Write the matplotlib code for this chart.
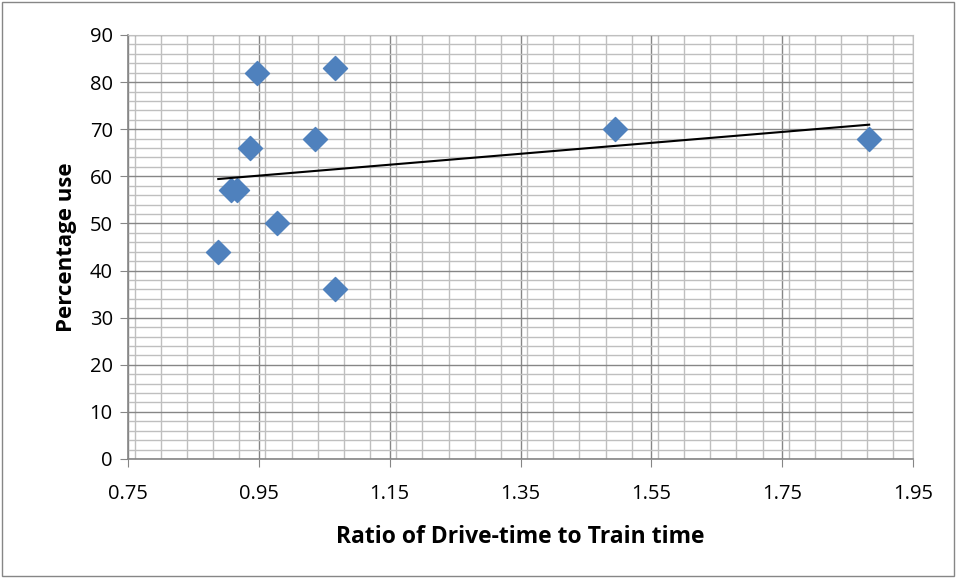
import numpy as np
import matplotlib
matplotlib.use("Agg")
import matplotlib.pyplot as plt
from matplotlib.ticker import MultipleLocator
from matplotlib.patches import Rectangle

ratio = [0.888, 0.9075, 0.917, 0.9365, 0.947, 0.978, 1.036, 1.067, 1.067, 1.495, 1.883]
pct_use = [44, 57, 57, 66, 82, 50, 68, 83, 36, 70, 68]

x_ticks = [0.75, 0.95, 1.15, 1.35, 1.55, 1.75, 1.95]
y_ticks = list(range(0, 91, 10))

plt.rcParams['font.family'] = ['Open Sans', 'DejaVu Sans']

fig = plt.figure(figsize=(9.56, 5.78), dpi=100)
ax = fig.add_axes([128/956, 1-459/578, (913-128)/956, (459-35)/578])

ax.set_xlim(0.75, 1.95)
ax.set_ylim(0, 90)
ax.set_xticks(x_ticks)
ax.set_xticklabels([f"{t:.2f}" for t in x_ticks])
ax.set_yticks(y_ticks)
ax.xaxis.set_minor_locator(MultipleLocator(0.04))
ax.yaxis.set_minor_locator(MultipleLocator(2))

ax.grid(which='major', color='#868686', linewidth=1.0, zorder=0)
ax.grid(which='minor', color='#bfbfbf', linewidth=1.0, zorder=0)
ax.set_axisbelow(True)

for s in ['top', 'right']:
    ax.spines[s].set_color('#bfbfbf')
for s in ['left', 'bottom']:
    ax.spines[s].set_color('#868686')
    ax.spines[s].set_linewidth(1.2)

ax.tick_params(which='major', direction='out', length=6, color='#868686', labelsize=14.5, pad=5)
ax.tick_params(which='minor', length=0)
ax.tick_params(axis='x', pad=12)

ax.scatter(ratio, pct_use, marker='D', s=150, color='#4F81BD', edgecolors='#4F81BD', zorder=3)

xs = np.array(ratio)
m, b = np.polyfit(xs, pct_use, 1)
xl = np.array([xs.min(), xs.max()])
ax.plot(xl, m*xl + b, color='black', linewidth=1.5, zorder=4)

ax.set_xlabel('Ratio of Drive-time to Train time', fontsize=16.5, fontweight='bold', labelpad=15)
ax.set_ylabel('Percentage use', fontsize=16, fontweight='bold', labelpad=9)

fig.patches.append(Rectangle((2/956, 2/578), 1-4/956, 1-4/578, transform=fig.transFigure,
                             fill=False, edgecolor='#868686', linewidth=1.0))

fig.savefig('out.png', dpi=100)
